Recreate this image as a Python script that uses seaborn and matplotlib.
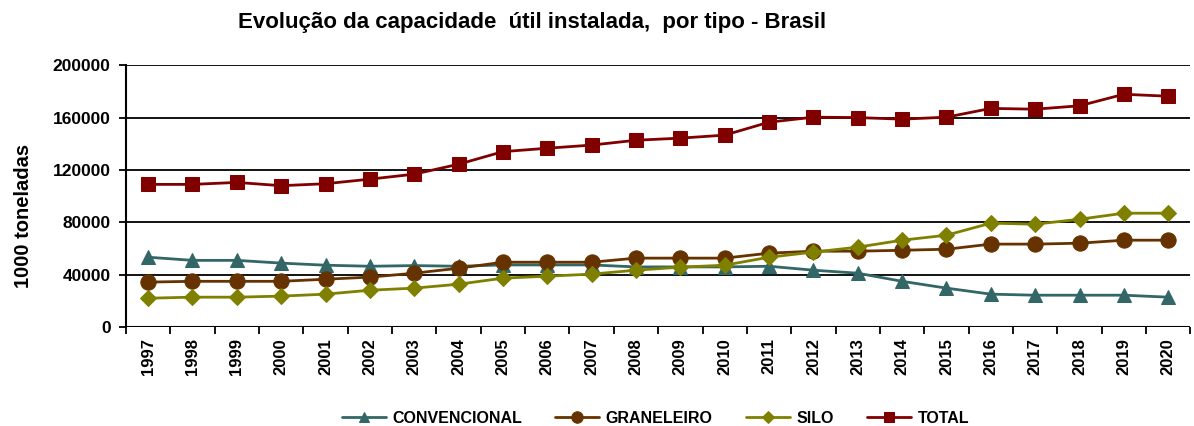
import numpy as np
import pandas as pd
import matplotlib
matplotlib.use("Agg")
import matplotlib.pyplot as plt
from matplotlib.ticker import MultipleLocator
import seaborn as sns

years = list(range(1997, 2021))

convencional = [53400, 51000, 51000, 48900, 47300, 46500, 47000, 46500, 47500, 47500,
                47500, 46000, 46000, 46000, 46500, 43500, 41200, 35000, 29800, 25200,
                24400, 24400, 24400, 22900]
graneleiro = [34400, 35000, 35000, 35000, 36600, 38200, 41200, 45000, 49600, 49600,
              49600, 52700, 52700, 52700, 56500, 58000, 58000, 58700, 59500, 63400,
              63400, 64100, 66400, 66400]
silo = [22100, 22900, 22900, 23700, 25200, 28200, 29800, 32800, 37400, 38900,
        40500, 43500, 45800, 47300, 53400, 57300, 61100, 66400, 70200, 79400,
        78600, 82400, 87000, 87000]
total = [109000, 109000, 110500, 108000, 109500, 113000, 116800, 124400, 134000, 136600,
         139000, 142700, 144300, 146600, 156500, 160300, 160000, 158800, 160300, 167000,
         166400, 169000, 177800, 176300]

series = ["CONVENCIONAL", "GRANELEIRO", "SILO", "TOTAL"]
colors = {"CONVENCIONAL": "#336666", "GRANELEIRO": "#663300",
          "SILO": "#808000", "TOTAL": "#800000"}
markers = {"CONVENCIONAL": "^", "GRANELEIRO": "o", "SILO": "D", "TOTAL": "s"}
sizes = {"CONVENCIONAL": 10, "GRANELEIRO": 11, "SILO": 8, "TOTAL": 10}

df = pd.DataFrame({"ano": years, "CONVENCIONAL": convencional, "GRANELEIRO": graneleiro,
                   "SILO": silo, "TOTAL": total})
long = df.melt(id_vars="ano", var_name="tipo", value_name="valor")

sns.set_style("white")
plt.rcParams["font.family"] = ["Liberation Sans", "DejaVu Sans"]
plt.rcParams["text.color"] = "black"
plt.rcParams["xtick.color"] = "black"
plt.rcParams["ytick.color"] = "black"
plt.rcParams["axes.labelcolor"] = "black"

fig = plt.figure(figsize=(11.94, 4.26), dpi=100)
ax = fig.add_axes([0.1055, 0.232, 0.8915, 0.615])

for name in series:
    sub = long[long["tipo"] == name]
    sns.lineplot(data=sub, x="ano", y="valor", ax=ax, color=colors[name],
                 marker=markers[name], markersize=sizes[name], linewidth=2,
                 markeredgecolor=colors[name], label=name)

ax.set_xlim(1996.5, 2020.5)
ax.set_ylim(0, 200000)
ax.yaxis.set_major_locator(MultipleLocator(40000))
ax.grid(axis="y", color="black", linewidth=1.3)
ax.set_axisbelow(True)
for s in ["top", "right", "bottom"]:
    ax.spines[s].set_visible(False)
ax.spines["left"].set_color("black")
ax.spines["left"].set_linewidth(1.5)
ax.axhline(0, color="black", linewidth=1.5, zorder=1)

ax.set_xticks(years)
ax.set_xticklabels([str(y) for y in years], rotation=90, fontweight="bold", fontsize=12)
ax.set_xticks([y + 0.5 for y in [1996] + years], minor=True)
ax.tick_params(axis="x", which="major", length=0, pad=8)
ax.tick_params(axis="x", which="minor", length=5, width=1.3, color="black", direction="out", bottom=True)
ax.tick_params(axis="y", length=5, width=1.3, color="black", direction="out", left=True, pad=6)
for lab in ax.get_yticklabels():
    lab.set_fontweight("bold")
    lab.set_fontsize(12.5)

ax.set_xlabel("")
ax.set_ylabel("")
fig.text(0.0195, 0.493, "1000 toneladas", rotation=90, ha="center", va="center",
         fontweight="bold", fontsize=14.5)

fig.text(0.4456, 0.948, "Evolução da capacidade  útil instalada,  por tipo - Brasil",
         ha="center", va="center", fontweight="bold", fontsize=16)

handles, labels = ax.get_legend_handles_labels()
ax.get_legend().remove()
fig.legend(handles, labels, loc="center", bbox_to_anchor=(0.549, 0.018),
           bbox_transform=fig.transFigure, ncol=4, frameon=False,
           prop={"weight": "bold", "size": 11.5}, handlelength=2.75,
           handletextpad=0.4, columnspacing=2.1, markerscale=0.75)

fig.savefig("out.png", dpi=100)
